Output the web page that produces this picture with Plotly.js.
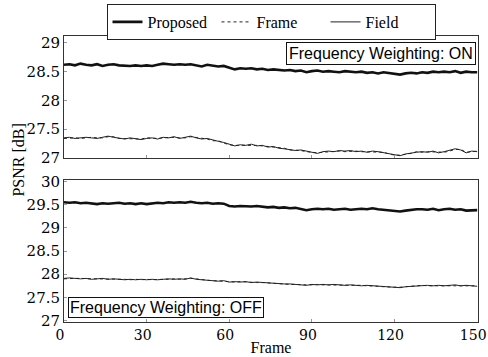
<!DOCTYPE html>
<html>
<head>
<meta charset="utf-8">
<script src="https://cdn.plot.ly/plotly-3.0.1.min.js"></script>
<style>html,body{margin:0;padding:0;background:#fff;}#chart{width:488px;height:357px;}</style>
</head>
<body>
<div id="chart"></div>
<script>
var frames = [0,2,4,6,8,10,12,14,16,18,20,22,24,26,28,30,32,34,36,38,40,42,44,46,48,50,52,54,56,58,60,62,64,66,68,70,72,74,76,78,80,82,84,86,88,90,92,94,96,98,100,102,104,106,108,110,112,114,116,118,120,122,124,126,128,130,132,134,136,138,140,142,144,146,148,150];

// Top panel: Frequency Weighting ON
var onProposed = [28.62,28.63,28.61,28.64,28.62,28.61,28.63,28.60,28.62,28.63,
  28.61,28.60,28.60,28.61,28.60,28.61,28.60,28.62,28.64,28.63,
  28.62,28.63,28.62,28.63,28.61,28.59,28.62,28.60,28.59,28.60,
  28.57,28.54,28.56,28.55,28.56,28.54,28.55,28.53,28.54,28.53,
  28.52,28.53,28.51,28.52,28.49,28.51,28.52,28.50,28.51,28.50,
  28.49,28.51,28.50,28.49,28.50,28.48,28.49,28.47,28.49,28.48,
  28.46,28.45,28.47,28.48,28.47,28.49,28.48,28.50,28.49,28.50,
  28.49,28.51,28.48,28.50,28.49,28.49];
var onFrame = [27.34,27.35,27.35,27.34,27.35,27.36,27.35,27.35,27.37,27.37,
  27.34,27.34,27.34,27.33,27.33,27.35,27.34,27.34,27.35,27.36,
  27.36,27.35,27.35,27.37,27.36,27.34,27.33,27.30,27.30,27.26,
  27.23,27.22,27.22,27.23,27.23,27.22,27.21,27.20,27.19,27.18,
  27.17,27.14,27.14,27.13,27.11,27.10,27.09,27.10,27.11,27.12,
  27.12,27.11,27.12,27.12,27.11,27.11,27.11,27.10,27.10,27.07,
  27.05,27.05,27.06,27.08,27.11,27.10,27.11,27.11,27.10,27.10,
  27.12,27.15,27.15,27.10,27.11,27.12];
var onField = [27.35,27.36,27.34,27.35,27.36,27.35,27.34,27.36,27.38,27.36,
  27.35,27.33,27.35,27.34,27.32,27.34,27.35,27.33,27.36,27.35,
  27.37,27.34,27.36,27.38,27.35,27.33,27.34,27.31,27.29,27.27,
  27.24,27.21,27.23,27.22,27.24,27.21,27.22,27.19,27.20,27.17,
  27.16,27.15,27.13,27.14,27.12,27.09,27.08,27.11,27.12,27.11,
  27.13,27.12,27.13,27.11,27.12,27.10,27.12,27.11,27.09,27.08,
  27.06,27.04,27.07,27.09,27.10,27.11,27.10,27.12,27.09,27.11,
  27.13,27.16,27.14,27.09,27.12,27.11];

// Bottom panel: Frequency Weighting OFF
var offProposed = [29.55,29.54,29.55,29.53,29.54,29.52,29.51,29.53,29.52,29.53,
  29.54,29.52,29.53,29.51,29.53,29.51,29.53,29.54,29.53,29.55,
  29.54,29.55,29.54,29.56,29.54,29.53,29.54,29.52,29.53,29.52,
  29.47,29.46,29.47,29.46,29.46,29.47,29.45,29.44,29.45,29.43,
  29.44,29.42,29.43,29.41,29.38,29.40,29.41,29.40,29.41,29.39,
  29.40,29.41,29.39,29.40,29.41,29.40,29.42,29.40,29.39,29.37,
  29.36,29.35,29.37,29.39,29.40,29.40,29.39,29.41,29.38,29.40,
  29.41,29.39,29.40,29.37,29.38,29.38];
var offFrame = [27.90,27.91,27.91,27.91,27.90,27.90,27.90,27.90,27.90,27.89,
  27.89,27.89,27.88,27.89,27.88,27.89,27.88,27.89,27.89,27.89,
  27.90,27.89,27.90,27.91,27.90,27.88,27.87,27.86,27.86,27.85,
  27.84,27.83,27.84,27.83,27.83,27.82,27.82,27.81,27.80,27.80,
  27.79,27.78,27.78,27.77,27.77,27.77,27.78,27.77,27.77,27.77,
  27.77,27.77,27.76,27.76,27.76,27.75,27.75,27.74,27.73,27.72,
  27.72,27.72,27.73,27.74,27.75,27.76,27.75,27.75,27.75,27.76,
  27.76,27.76,27.76,27.75,27.75,27.75];
var offField = [27.91,27.92,27.91,27.90,27.91,27.89,27.90,27.91,27.89,27.90,
  27.89,27.88,27.89,27.88,27.89,27.88,27.89,27.88,27.89,27.90,
  27.89,27.90,27.89,27.92,27.89,27.88,27.87,27.86,27.85,27.86,
  27.83,27.84,27.83,27.84,27.82,27.83,27.82,27.81,27.81,27.80,
  27.79,27.79,27.78,27.77,27.76,27.78,27.77,27.78,27.77,27.78,
  27.77,27.76,27.77,27.76,27.75,27.76,27.75,27.74,27.73,27.73,
  27.72,27.71,27.73,27.74,27.75,27.75,27.76,27.75,27.76,27.75,
  27.76,27.77,27.75,27.76,27.75,27.74];

var seriesNames = ['Proposed', 'Frame', 'Field'];
var panelLabels = ['Frequency Weighting: ON', 'Frequency Weighting: OFF'];
var xTicks = [0, 30, 60, 90, 120, 150];
var yTicksTop = [27, 27.5, 28, 28.5, 29];
var yTicksBottom = [27, 27.5, 28, 28.5, 29, 29.5, 30];

var styles = [
  {color: '#111', width: 2.6, dash: 'solid'},
  {color: '#222', width: 1, dash: '3px,3px'},
  {color: '#222', width: 1, dash: 'solid'}
];

var traces = [];
var topData = [onProposed, onFrame, onField];
var botData = [offProposed, offFrame, offField];
[2, 1, 0].forEach(function(i) {
  traces.push({x: frames, y: topData[i], type: 'scatter', mode: 'lines', name: seriesNames[i],
    xaxis: 'x2', yaxis: 'y2', line: styles[i], showlegend: false, legendrank: i + 1});
});
[2, 1, 0].forEach(function(i) {
  traces.push({x: frames, y: botData[i], type: 'scatter', mode: 'lines', name: seriesNames[i],
    xaxis: 'x', yaxis: 'y', line: styles[i], showlegend: true, legendrank: i + 1});
});

var tickFont = {family: 'DejaVu Serif', size: 15, color: '#000'};
var axBase = {showline: true, linecolor: '#333', linewidth: 1, mirror: true, showgrid: false,
  zeroline: false, ticks: 'inside', ticklen: 3, tickcolor: '#999', tickfont: tickFont,
  ticklabeloverflow: 'allow'};

var layout = {
  width: 488, height: 357,
  margin: {l: 64, r: 10, t: 36, b: 35, autoexpand: false},
  paper_bgcolor: '#fff', plot_bgcolor: '#fff',
  font: {family: 'Liberation Serif', color: '#000'},
  showlegend: true,
  legend: {orientation: 'h', x: 0.5, xanchor: 'center', y: 1.1119, yanchor: 'top',
    bordercolor: '#222', borderwidth: 1, bgcolor: '#fff', entrywidth: 64, entrywidthmode: 'pixels',
    font: {family: 'Liberation Serif', size: 16, color: '#000'}, traceorder: 'normal'},
  xaxis: Object.assign({}, axBase, {range: [0, 150.3], tickvals: xTicks, anchor: 'y',
    tickfont: {family: 'DejaVu Serif', size: 14, color: '#000'}, ticklabelshift: -4,
    title: {text: 'Frame', font: {family: 'Liberation Serif', size: 16, color: '#000'}, standoff: 0}}),
  xaxis2: Object.assign({}, axBase, {range: [0, 150.3], tickvals: xTicks, anchor: 'y2', showticklabels: false}),
  yaxis: Object.assign({}, axBase, {domain: [0, 0.4965], range: [26.97, 30.03], tickvals: yTicksBottom,
    ticktext: yTicksBottom.map(String)}),
  yaxis2: Object.assign({}, axBase, {domain: [0.5734, 1], range: [27, 29.12], tickvals: yTicksTop,
    ticktext: yTicksTop.map(String)}),
  annotations: [
    {text: panelLabels[0], xref: 'paper', yref: 'paper', x: 0.995, xanchor: 'right', y: 0.9388, yanchor: 'middle',
      showarrow: false, bordercolor: '#111', borderwidth: 1, borderpad: 2, bgcolor: '#fff',
      font: {family: 'Liberation Sans', size: 16, color: '#000'}},
    {text: panelLabels[1], xref: 'paper', yref: 'paper', x: 0.0096, xanchor: 'left', y: 0.0507, yanchor: 'middle',
      showarrow: false, bordercolor: '#111', borderwidth: 1, borderpad: 1, bgcolor: '#fff',
      font: {family: 'Liberation Sans', size: 16, color: '#000'}},
    {text: 'PSNR [dB]', xref: 'paper', yref: 'paper', x: -0.11, xanchor: 'center', y: 0.566, yanchor: 'middle',
      textangle: -90, showarrow: false, font: {family: 'Liberation Serif', size: 16, color: '#000'}}
  ]
};

Plotly.newPlot('chart', traces, layout, {displayModeBar: false, staticPlot: true});
</script>
</body>
</html>
